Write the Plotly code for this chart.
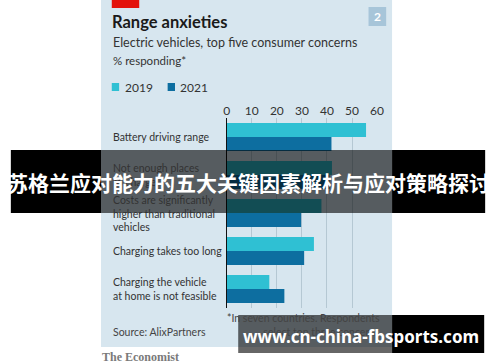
import plotly.graph_objects as go

# ---- data ----
categories = ["Battery driving range", "Not enough places to charge",
              "Costs are significantly higher than traditional vehicles",
              "Charging takes too long", "Charging the vehicle at home is not feasible"]
category_labels = ["Battery driving range", "Not enough places<br>to charge",
                   "Costs are significantly<br>higher than traditional<br>vehicles",
                   "Charging takes too long", "Charging the vehicle<br>at home is not feasible"]
values_2019 = [55.6, 42, 37.8, 34.8, 17]
values_2021 = [41.8, 41, 29.7, 30.9, 23]
series_names = ["2019", "2021"]
tick_values = [0, 10, 20, 30, 40, 50, 60]

W, H = 500, 362
def px(x): return x / W
def py(y): return 1 - y / H

C2019 = "#2fc0d3"
C2021 = "#0d6ea0"
PANEL = "#d7e6ef"
TXT = "#333333"
FONT = "Lato"
colors = [C2019, C2021]

fig = go.Figure()
fig.add_trace(go.Bar(y=categories, x=values_2019, name=series_names[0], orientation="h",
                     marker=dict(color=C2019, line=dict(width=0))))
fig.add_trace(go.Bar(y=categories, x=values_2021, name=series_names[1], orientation="h",
                     marker=dict(color=C2021, line=dict(width=0))))

fig.update_layout(
    width=W, height=H,
    margin=dict(l=0, r=0, t=0, b=0, pad=0),
    paper_bgcolor="white", plot_bgcolor="rgba(0,0,0,0)",
    barmode="group", bargap=0.263, bargroupgap=0,
    font=dict(family=FONT, color=TXT),
    showlegend=False,
    xaxis=dict(domain=[px(228.3), px(381.7)], range=[0, 60], side="top",
               tickvals=tick_values, showgrid=True, gridcolor="#b5c8d3", gridwidth=1,
               zeroline=False, showline=False, ticks="",
               tickfont=dict(size=12, color=TXT, family=FONT), fixedrange=True),
    yaxis=dict(domain=[py(308), py(118)], autorange="reversed", showticklabels=False,
               showgrid=False, zeroline=False, showline=True, linecolor="#111111",
               linewidth=1, ticks="", fixedrange=True),
)

shapes = []
# panel
shapes.append(dict(type="rect", xref="paper", yref="paper", x0=px(100), x1=px(397),
                   y0=py(347), y1=py(0), fillcolor=PANEL, line=dict(width=0), layer="below"))
# red tag
shapes.append(dict(type="rect", xref="paper", yref="paper", x0=px(111), x1=px(139),
                   y0=py(8), y1=py(0), fillcolor="#e3120b", line=dict(width=0), layer="below"))
# chart number box
shapes.append(dict(type="rect", xref="paper", yref="paper", x0=px(373), x1=px(391),
                   y0=py(26), y1=py(7), fillcolor="#a7c5d9", line=dict(width=0), layer="below"))
# legend swatches
for xs, col in zip([111, 168], colors):
    shapes.append(dict(type="rect", xref="paper", yref="paper", x0=px(xs), x1=px(xs + 7.5),
                       y0=py(91), y1=py(83), fillcolor=col, line=dict(width=0), layer="below"))
# banner overlay
for x0, x1, col in [(8, 100, "black"), (100, 397, "rgba(0,0,0,0.6)"), (397, 492, "black")]:
    shapes.append(dict(type="rect", xref="paper", yref="paper", x0=px(x0), x1=px(x1),
                       y0=py(213), y1=py(150), fillcolor=col, line=dict(width=0), layer="above"))
# watermark overlay
for x0, x1, col in [(240, 397, "rgba(0,0,0,0.6)"), (397, 491, "black")]:
    shapes.append(dict(type="rect", xref="paper", yref="paper", x0=px(x0), x1=px(x1),
                       y0=py(353), y1=py(315), fillcolor=col, line=dict(width=0), layer="above"))
fig.update_layout(shapes=shapes)

ann = []
def text(x, y, s, size, color=TXT, bold=False, xanchor="left", family=FONT, align="left"):
    ann.append(dict(xref="paper", yref="paper", x=px(x), y=py(y), text=(f"<b>{s}</b>" if bold else s),
                    showarrow=False, xanchor=xanchor, yanchor="middle", align=align,
                    font=dict(size=size, color=color, family=family)))

text(109, 22, "Range anxieties", 16.5, color="#1a1a1a", bold=True)
text(110, 42, "Electric vehicles, top five consumer concerns", 12.5)
text(110, 60, "% responding*", 11.5)
text(122, 87, series_names[0], 12)
text(179, 87, series_names[1], 12)
ann.append(dict(xref="paper", yref="paper", x=px(382), y=py(16.5), text="<b>2</b>", showarrow=False,
                xanchor="center", yanchor="middle", font=dict(size=12, color="white", family=FONT)))

for cat, lab in zip(categories, category_labels):
    ann.append(dict(xref="paper", yref="y", x=px(110), y=cat, text=lab, showarrow=False,
                    xanchor="left", yanchor="middle", align="left",
                    font=dict(size=10.5, color=TXT, family=FONT)))

text(387, 325, "*In seven countries. Respondents<br>select top three concerns", 10.5,
     color="#444444", xanchor="right", align="right")
text(110, 332, "Source: AlixPartners", 10.5, color="#444444")
text(99, 357, "<b>The Economist</b>", 12, color="#7a7a7a", family="Liberation Serif")

# overlays text
text(250, 182, "苏格兰应对能力的五大关键因素解析与应对策略探讨", 21, color="white", bold=True,
     xanchor="center", family="Noto Sans CJK SC")
text(365, 336, "www.cn-china-fbsports.com", 17, color="white", bold=True, xanchor="center",
     family="Noto Sans")

fig.update_layout(annotations=ann)
fig.write_html("out.html", config={"displayModeBar": False},
               post_script="document.body.style.margin='0';document.body.style.overflow='hidden';")
